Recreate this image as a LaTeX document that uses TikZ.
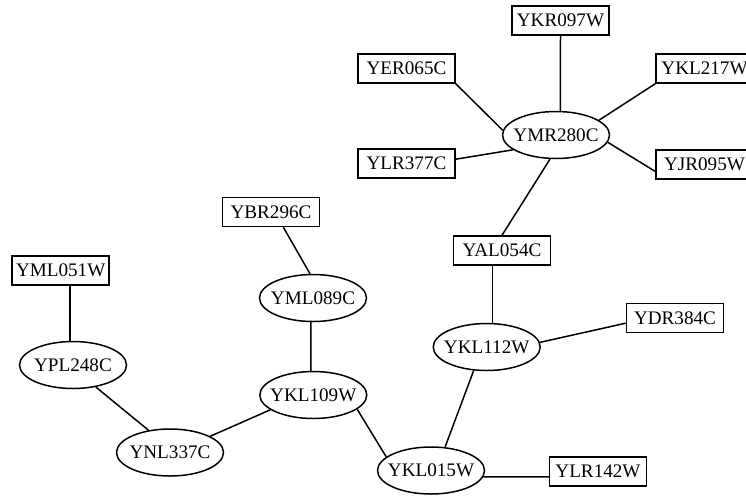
\documentclass[tikz,border=0pt]{standalone}
\usepackage{fontspec}
\setmainfont{Liberation Serif}
\usetikzlibrary{positioning, calc, shapes.geometric}
\tikzset{
    genebox/.style={rectangle, draw=black, line width=0.85pt, inner sep=0pt,
                    minimum width=1.94cm, minimum height=0.58cm, font=\fontsize{10.9}{12}\selectfont},
    geneoval/.style={ellipse, draw=black, line width=0.85pt, inner xsep=-4pt, inner ysep=0pt,
                     minimum width=2.14cm, minimum height=0.94cm, font=\fontsize{10.9}{12}\selectfont},
    link/.style={line width=0.85pt, draw=black},
}
\begin{document}
\begin{tikzpicture}[x=0.02cm, y=-0.02cm]
    \useasboundingbox (0,0) rectangle (746,495);

    % --- Gruppo in alto: YMR280C e vicini ---
    \node[geneoval] (YMR280C) at (556, 135) {YMR280C};
    \node[genebox] (YKR097W) at (560.5, 20.5) {YKR097W};
    \node[genebox] (YER065C) at (406.5, 68.5) {YER065C};
    \node[genebox] (YKL217W) at (704.5, 68.5) {YKL217W};
    \node[genebox] (YLR377C) at (406.5, 163.5) {YLR377C};
    \node[genebox] (YJR095W) at (704.5, 164.5) {YJR095W};
    \node[genebox] (YAL054C) at (502, 250.5) {YAL054C};

    % --- Parte centrale e a destra ---
    \node[geneoval] (YKL112W) at (486.7, 347) {YKL112W};
    \node[genebox] (YDR384C) at (675, 318) {YDR384C};
    \node[geneoval] (YKL015W) at (431, 470.5) {YKL015W};
    \node[genebox] (YLR142W) at (598, 471.7) {YLR142W};

    % --- Parte a sinistra ---
    \node[genebox] (YBR296C) at (271, 212) {YBR296C};
    \node[geneoval] (YML089C) at (313, 298) {YML089C};
    \node[geneoval] (YKL109W) at (313.3, 395) {YKL109W};
    \node[geneoval] (YNL337C) at (170, 452.5) {YNL337C};
    \node[genebox] (YML051W) at (60.7, 270.3) {YML051W};
    \node[geneoval] (YPL248C) at (73, 365) {YPL248C};

    % Collegamenti
    \draw[link] (YKR097W.south) -- (YMR280C.80);
    \draw[link] (YER065C.south east) -- (YMR280C.175);
    \draw[link] (YLR377C.5) -- (YMR280C.199);
    \draw[link] (YKL217W.south west) -- (YMR280C.19);
    \draw[link] (YJR095W.188) -- (YMR280C.-8);
    \draw[link] (YMR280C.256) -- (YAL054C.north);
    \draw[link] (YAL054C.south -| YKL112W.76) -- (YKL112W.76);
    \draw[link] (YKL112W.5) -- (YDR384C.186);
    \draw[link] (YKL112W.241) -- (YKL015W.59);
    \draw[link] (YKL015W.-7) -- (YLR142W.186);
    \draw[link] (YKL109W.-18) -- (YKL015W.163);
    \draw[link] (YBR296C.-51) -- (YML089C.97);
    \draw[link] (YML089C.265) -- (YKL109W.96);
    \draw[link] (YKL109W.199) -- (YNL337C.22);
    \draw[link] (YNL337C.134) -- (YPL248C.-44);
    \draw[link] (YML051W.south -| YPL248C.97) -- (YPL248C.97);

\end{tikzpicture}
\end{document}
